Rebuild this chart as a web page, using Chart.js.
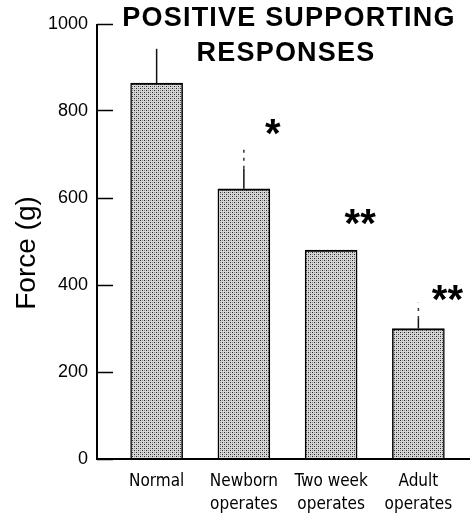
<!DOCTYPE html>
<html>
<head>
<meta charset="utf-8">
<script src="https://cdn.jsdelivr.net/npm/chart.js@4.4.1/dist/chart.umd.min.js"></script>
<style>
  html, body { margin: 0; padding: 0; background: #fff; }
  #wrap { width: 470px; height: 516px; position: relative; }
</style>
</head>
<body>
<div id="wrap"><canvas id="forceChart" width="470" height="516"></canvas></div>
<script>
/* ================= DATA ================= */
const groups = [["Normal"], ["Newborn", "operates"], ["Two week", "operates"], ["Adult", "operates"]];
const meanForce = [864, 621, 480, 300];
const errSolidTop = [943, 667, 480, 322];   // solid part of the error line
const errDottedTop = [943, 722, 480, 359];  // faint dotted continuation
const signifMarks = ["", "*", "**", "**"];
const signifAt = [0, 759, 552, 377];
const yTicks = [0, 200, 400, 600, 800, 1000];

/* ================= STIPPLE FILL ================= */
function stipple() {
    const c = document.createElement("canvas");
    c.width = 4; c.height = 4;
    const g = c.getContext("2d");
    g.fillStyle = "#d6d6d6";
    g.fillRect(0, 0, 4, 4);
    g.fillStyle = "#262626";
    g.fillRect(0, 0, 1, 1);
    g.fillRect(2, 2, 1, 1);
    g.fillStyle = "#8c8c8c";
    g.fillRect(2, 0, 1, 1);
    g.fillRect(0, 2, 1, 1);
    return g.createPattern(c, "repeat");
}

/* ================= EXTRA DRAWING ================= */
const extras = {
    id: "extras",
    afterDatasetsDraw(chart) {
        const ctx = chart.ctx;
        const x = chart.scales.x, y = chart.scales.y;
        const area = chart.chartArea;
        ctx.save();

        // axis lines
        ctx.strokeStyle = "#000";
        ctx.lineWidth = 2;
        ctx.beginPath();
        ctx.moveTo(97, y.getPixelForValue(1000));
        ctx.lineTo(97, area.bottom);
        ctx.lineTo(470, area.bottom);
        ctx.stroke();

        // error lines
        meanForce.forEach((v, i) => {
            const cx = x.getPixelForValue(i);
            ctx.setLineDash([]);
            ctx.lineWidth = 1.5;
            ctx.strokeStyle = "#111";
            ctx.beginPath();
            ctx.moveTo(cx, y.getPixelForValue(v));
            ctx.lineTo(cx, y.getPixelForValue(errSolidTop[i]));
            ctx.stroke();
            if (errDottedTop[i] > errSolidTop[i]) {
                ctx.setLineDash([3, 5]);
                ctx.strokeStyle = "#333";
                ctx.beginPath();
                ctx.moveTo(cx, y.getPixelForValue(errSolidTop[i]));
                ctx.lineTo(cx, y.getPixelForValue(errDottedTop[i]));
                ctx.stroke();
            }
        });
        ctx.setLineDash([]);

        // significance asterisks
        ctx.fillStyle = "#000";
        ctx.font = "bold 40px 'Liberation Sans', Arial, sans-serif";
        ctx.textAlign = "center";
        ctx.textBaseline = "alphabetic";
        signifMarks.forEach((m, i) => {
            if (!m) return;
            const cx = x.getPixelForValue(i) + 29;
            ctx.fillText(m, cx, y.getPixelForValue(signifAt[i]) + 18);
        });

        // title
        ctx.font = "bold 27px 'Liberation Sans', Arial, sans-serif";
        ctx.textBaseline = "middle";
        ctx.letterSpacing = "1.2px";
        ctx.fillText("POSITIVE SUPPORTING", 289, 19);
        ctx.fillText("RESPONSES", 286, 54);
        ctx.letterSpacing = "0px";

        // y axis title
        ctx.font = "28px 'Liberation Sans', Arial, sans-serif";
        ctx.translate(27, 253);
        ctx.rotate(-Math.PI / 2);
        ctx.fillText("Force (g)", 0, 0);
        ctx.restore();
    }
};

/* ================= CHART ================= */
new Chart(document.getElementById("forceChart"), {
    type: "bar",
    data: {
        labels: groups,
        datasets: [{
            data: meanForce,
            backgroundColor: stipple(),
            borderColor: "#000",
            borderWidth: { top: 2, left: 1.5, right: 1.5, bottom: 0 },
            borderSkipped: "start",
            barThickness: 52
        }]
    },
    options: {
        responsive: false,
        animation: false,
        layout: { padding: { top: 24, right: 8, left: 0, bottom: 0 } },
        plugins: { legend: { display: false }, tooltip: { enabled: false } },
        scales: {
            x: {
                grid: { display: false, drawTicks: false },
                border: { display: false },
                ticks: {
                    color: "#000",
                    padding: 11,
                    autoSkip: false,
                    maxRotation: 0,
                    font: { family: "'DejaVu Sans Condensed', 'Liberation Sans', sans-serif", size: 17, lineHeight: 1.35 }
                },
                afterFit(s) { s.height = 57; }
            },
            y: {
                min: 0,
                max: 1000,
                afterBuildTicks(s) { s.ticks = yTicks.map(v => ({ value: v })); },
                grid: { drawOnChartArea: false, drawTicks: true, tickLength: 16, tickColor: "#000", tickWidth: 1.5 },
                border: { display: false },
                ticks: {
                    color: "#000",
                    padding: 9,
                    callback: v => String(v),
                    font: { family: "'Liberation Sans', Arial, sans-serif", size: 18 }
                },
                afterFit(s) { s.width = 113; }
            }
        }
    },
    plugins: [extras]
});
</script>
</body>
</html>
